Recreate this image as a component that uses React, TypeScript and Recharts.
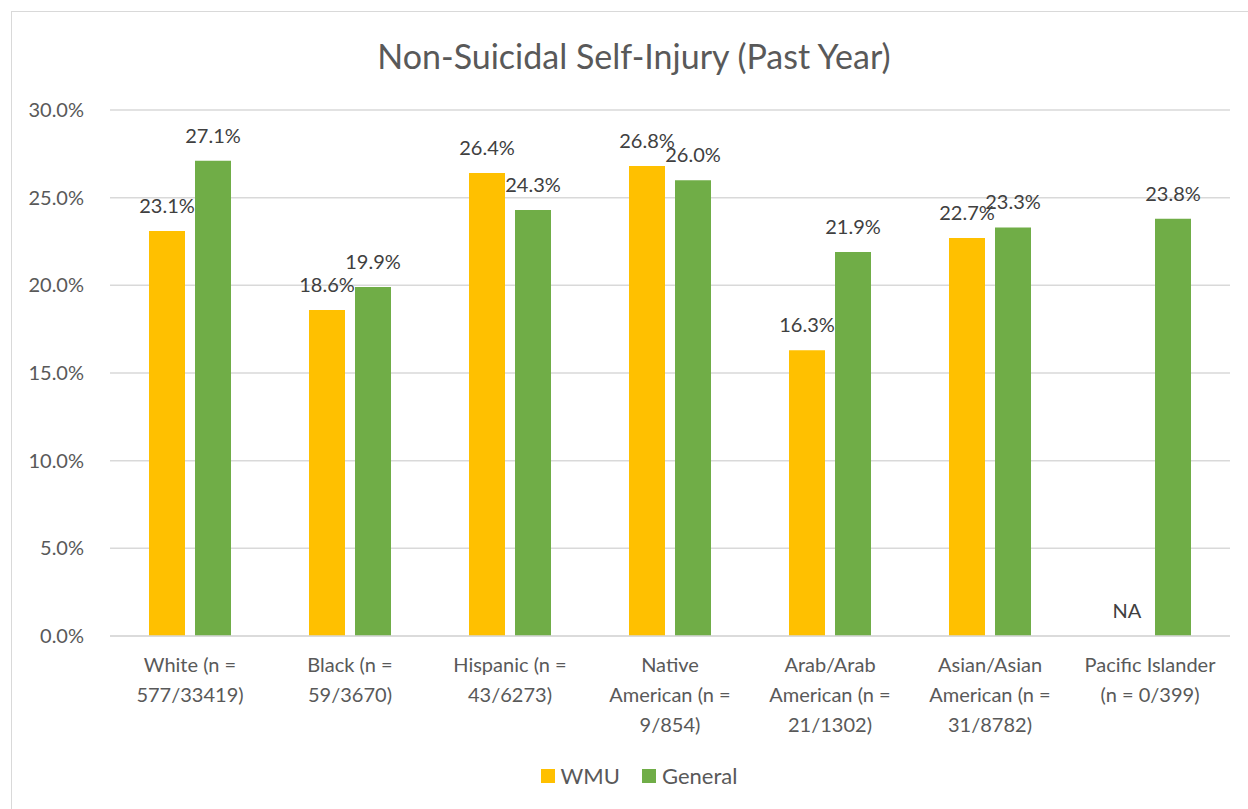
import { BarChart, Bar, XAxis, YAxis, CartesianGrid, Legend, LabelList } from "recharts";

const categories = [
  "White (n = 577/33419)",
  "Black (n = 59/3670)",
  "Hispanic (n = 43/6273)",
  "Native American (n = 9/854)",
  "Arab/Arab American (n = 21/1302)",
  "Asian/Asian American (n = 31/8782)",
  "Pacific Islander (n = 0/399)",
];

// how Excel wrapped each category label
const tickLines = [
  ["White (n =", "577/33419)"],
  ["Black (n =", "59/3670)"],
  ["Hispanic (n =", "43/6273)"],
  ["Native", "American (n =", "9/854)"],
  ["Arab/Arab", "American (n =", "21/1302)"],
  ["Asian/Asian", "American (n =", "31/8782)"],
  ["Pacific Islander", "(n = 0/399)"],
];

const wmu = [23.1, 18.6, 26.4, 26.8, 16.3, 22.7, null];
const general = [27.1, 19.9, 24.3, 26.0, 21.9, 23.3, 23.8];

const yTicks = [0, 5, 10, 15, 20, 25, 30];

const series = [
  { key: "WMU", color: "#FFC000" },
  { key: "General", color: "#70AD47" },
];

const data = categories.map((name, i) => ({
  name,
  WMU: wmu[i],
  General: general[i],
}));

const FONT = "Lato, 'Open Sans', sans-serif";
const TEXT = "#595959";
const LABEL = "#404040";
const BAR_GAP = 10;

const CategoryTick = (props: any) => {
  const { x, y, payload } = props;
  const lines = tickLines[payload.index] ?? [payload.value];
  return (
    <text x={x} y={y} textAnchor="middle" fill={TEXT} fontSize={20} fontFamily={FONT}>
      {lines.map((l: string, i: number) => (
        <tspan key={i} x={x} dy={i === 0 ? 28 : 30}>
          {l}
        </tspan>
      ))}
    </text>
  );
};

const valueText = (cx: number, y: number, value: number) => (
  <text x={cx} y={y - 18} textAnchor="middle" fill={LABEL} fontSize={20} fontFamily={FONT}>
    {`${Number(value).toFixed(1)}%`}
  </text>
);

const renderWmuLabel = (props: any) => {
  const { x = 0, y = 0, width = 0, value } = props;
  if (value === null || value === undefined) return null;
  return valueText(Number(x) + Number(width) / 2, Number(y), value);
};

// General label; also writes "NA" where the WMU bar has no value
const renderGeneralLabel = (props: any) => {
  const { x = 0, y = 0, width = 0, height = 0, value, index } = props;
  const cx = Number(x) + Number(width) / 2;
  const base = Number(y) + Number(height);
  const missing = wmu[index] === null || wmu[index] === undefined;
  return (
    <g>
      {valueText(cx, Number(y), value)}
      {missing && (
        <text
          x={cx - Number(width) - BAR_GAP}
          y={base - 18}
          textAnchor="middle"
          fill={LABEL}
          fontSize={20}
          fontFamily={FONT}
        >
          NA
        </text>
      )}
    </g>
  );
};

const LegendContent = () => (
  <div style={{ display: "flex", justifyContent: "center", fontFamily: FONT, fontSize: 22, color: TEXT }}>
    {series.map((s) => (
      <div key={s.key} style={{ display: "flex", alignItems: "center", margin: "0 11px" }}>
        <span style={{ display: "inline-block", width: 14, height: 14, background: s.color, marginRight: 6 }} />
        {s.key}
      </div>
    ))}
  </div>
);

const App = () => {
  return (
    <div
      style={{
        position: "absolute",
        left: 0,
        top: 0,
        width: 1248,
        height: 809,
        overflow: "hidden",
        background: "#fff",
      }}
    >
      <div
        style={{
          position: "absolute",
          left: 11,
          top: 11,
          width: 1260,
          height: 820,
          border: "1px solid #d9d9d9",
        }}
      />
      <div
        style={{
          position: "absolute",
          left: 0,
          top: 35,
          width: 1268,
          textAlign: "center",
          fontFamily: FONT,
          fontSize: 34,
          color: TEXT,
        }}
      >
        Non-Suicidal Self-Injury (Past Year)
      </div>
      <div style={{ position: "absolute", left: 0, top: 0 }}>
        <BarChart
          width={1248}
          height={809}
          data={data}
          margin={{ top: 110, right: 18, bottom: 47, left: 10 }}
          barGap={BAR_GAP}
          barSize={36}
        >
          <CartesianGrid vertical={false} stroke="#d9d9d9" strokeWidth={1.5} />
          <XAxis
            dataKey="name"
            height={100}
            tick={<CategoryTick />}
            tickLine={false}
            axisLine={{ stroke: "#d9d9d9", strokeWidth: 1.5 }}
            interval={0}
          />
          <YAxis
            width={100}
            domain={[0, 30]}
            ticks={yTicks}
            tickFormatter={(v: number) => `${v.toFixed(1)}%`}
            tick={{ fill: TEXT, fontSize: 20, fontFamily: FONT }}
            tickLine={false}
            axisLine={false}
            tickMargin={20}
          />
          <Legend
            verticalAlign="bottom"
            content={<LegendContent />}
            wrapperStyle={{ position: "absolute", top: 762, left: 0, width: 1278, height: 26 }}
          />
          <Bar dataKey="WMU" fill="#FFC000" isAnimationActive={false}>
            <LabelList dataKey="WMU" content={renderWmuLabel} />
          </Bar>
          <Bar dataKey="General" fill="#70AD47" isAnimationActive={false}>
            <LabelList dataKey="General" content={renderGeneralLabel} />
          </Bar>
        </BarChart>
      </div>
    </div>
  );
};

export default App;
